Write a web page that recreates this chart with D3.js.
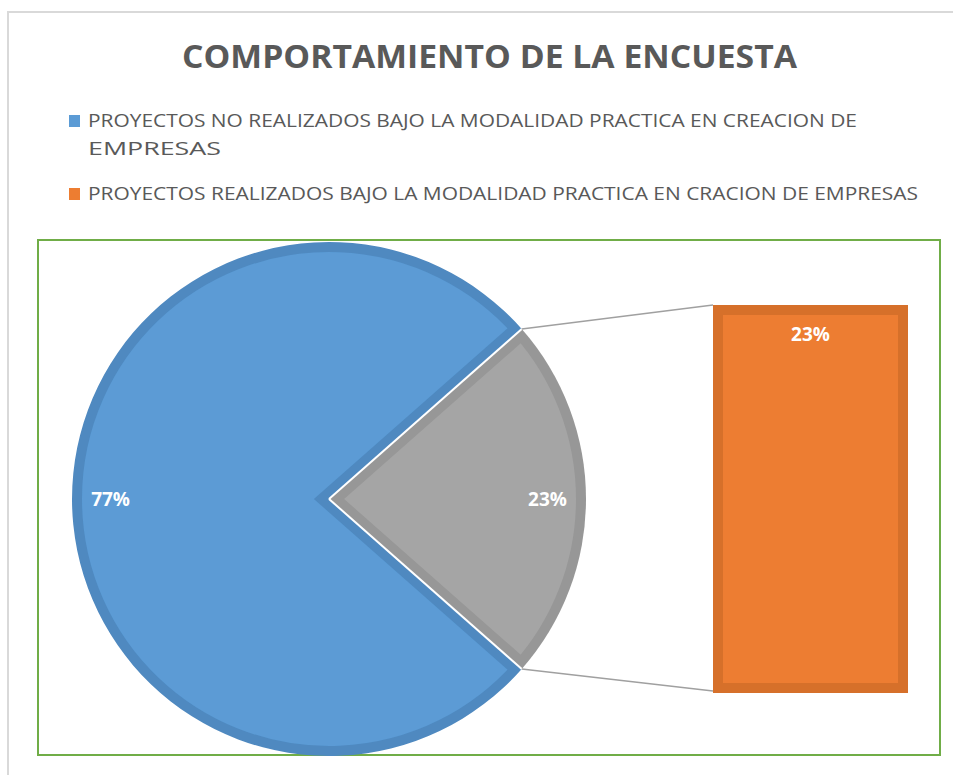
<!DOCTYPE html>
<html>
<head>
<meta charset="utf-8">
<script src="https://cdn.jsdelivr.net/npm/d3@7"></script>
<style>
  html, body { margin: 0; padding: 0; background: #ffffff; }
  svg { display: block; }
</style>
</head>
<body>
<svg id="chart" width="953" height="775"></svg>
<script>
// ---- data ----
const title = "COMPORTAMIENTO DE LA ENCUESTA";
const categories = [
  "PROYECTOS NO REALIZADOS BAJO LA MODALIDAD PRACTICA EN CREACION DE EMPRESAS",
  "PROYECTOS REALIZADOS BAJO LA MODALIDAD PRACTICA EN CRACION DE EMPRESAS"
];
const values = [77, 23];                 // percent
const barValues = [23];                  // bar of the secondary chart
const colors = ["#5b9bd5", "#ed7d31"];
const borderColors = ["#4f89c0", "#d6702b"];
const otherColor = "#a5a5a5";
const otherBorder = "#979797";

const svg = d3.select("#chart");
const defs = svg.append("defs");
defs.append("filter").attr("id", "soft")
  .attr("x", "-5%").attr("y", "-5%").attr("width", "110%").attr("height", "110%")
  .append("feGaussianBlur").attr("stdDeviation", 0.7);

// outer chart border
svg.append("rect").attr("x", 8).attr("y", 12).attr("width", 960).attr("height", 780)
  .attr("fill", "none").attr("stroke", "#d9d9d9").attr("stroke-width", 2);

// title
svg.append("text")
  .attr("x", 182).attr("y", 68)
  .attr("textLength", 615).attr("lengthAdjust", "spacingAndGlyphs")
  .attr("font-family", "'Open Sans', sans-serif").attr("font-weight", "bold")
  .attr("font-size", 32).attr("fill", "#595959")
  .text(title);

// legend
const legendFont = "'Open Sans', sans-serif";
const legendItems = [
  { lines: ["PROYECTOS NO REALIZADOS BAJO LA MODALIDAD PRACTICA EN CREACION DE", "EMPRESAS"], lens: [769, 133], y: 127, color: colors[0] },
  { lines: [categories[1]], lens: [830], y: 200, color: colors[1] }
];
legendItems.forEach(it => {
  svg.append("rect").attr("x", 69).attr("y", it.y - 12).attr("width", 11).attr("height", 12)
    .attr("fill", it.color);
  it.lines.forEach((ln, i) => {
    svg.append("text").attr("x", 88).attr("y", it.y + i * 28)
      .attr("font-family", legendFont).attr("font-size", 18).attr("fill", "#595959")
      .attr("textLength", it.lens[i]).attr("lengthAdjust", "spacingAndGlyphs")
      .text(ln);
  });
});

// plot area border
svg.append("rect").attr("x", 38).attr("y", 240).attr("width", 902).attr("height", 515)
  .attr("fill", "none").attr("stroke", "#70ad47").attr("stroke-width", 2);

// ---- pie ----
const cx = 329, cy = 499, R = 257;
const total = d3.sum(values);
const start = Math.PI / 2 + Math.PI * values[1] / total;
const pie = d3.pie().sort(null).startAngle(start).endAngle(start + 2 * Math.PI);
const arcs = pie(values);
const arc = d3.arc().innerRadius(0).outerRadius(R);
const labelArc = d3.arc().innerRadius(R * 0.85).outerRadius(R * 0.85);

const fills = [colors[0], otherColor];
const strokes = [borderColors[0], otherBorder];

arcs.forEach((a, i) => {
  const id = "clip" + i;
  defs.append("clipPath").attr("id", id).append("path").attr("d", arc(a))
    .attr("transform", `translate(${cx},${cy})`);
  const g = svg.append("g").attr("clip-path", `url(#${id})`);
  g.append("path").attr("d", arc(a)).attr("transform", `translate(${cx},${cy})`)
    .attr("fill", fills[i]).attr("stroke", strokes[i]).attr("stroke-width", 20)
    .attr("filter", "url(#soft)");
});

const pg = svg.append("g").attr("transform", `translate(${cx},${cy})`);

// white separator lines on the "other" slice radial edges
const other = arcs[1];
[other.startAngle, other.endAngle].forEach(ang => {
  pg.append("line").attr("x1", 0).attr("y1", 0)
    .attr("x2", R * Math.sin(ang)).attr("y2", -R * Math.cos(ang))
    .attr("stroke", "#ffffff").attr("stroke-width", 2);
});

// pie labels
arcs.forEach((a, i) => {
  const [lx, ly] = labelArc.centroid(a);
  pg.append("text").attr("x", lx).attr("y", ly).attr("dy", "0.36em")
    .attr("text-anchor", "middle")
    .attr("font-family", "'Open Sans', sans-serif").attr("font-weight", "bold")
    .attr("font-size", 19).attr("fill", "#ffffff")
    .text(d3.format(".0%")(a.value / total));
});

// ---- bar (secondary chart) ----
const barX = d3.scaleBand().domain(["other"]).range([713, 908]).padding(0);
const barY = d3.scaleLinear().domain([0, 23]).range([693, 305]);
const bx = barX("other"), bw = barX.bandwidth();
const by = barY(barValues[0]), bh = barY(0) - barY(barValues[0]);

defs.append("clipPath").attr("id", "clipBar").append("rect")
  .attr("x", bx).attr("y", by).attr("width", bw).attr("height", bh);
svg.append("g").attr("clip-path", "url(#clipBar)")
  .append("rect").attr("x", bx).attr("y", by).attr("width", bw).attr("height", bh)
  .attr("fill", colors[1]).attr("stroke", borderColors[1]).attr("stroke-width", 20)
  .attr("filter", "url(#soft)");

svg.append("text").attr("x", bx + bw / 2).attr("y", by + 36)
  .attr("text-anchor", "middle")
  .attr("font-family", "'Open Sans', sans-serif").attr("font-weight", "bold")
  .attr("font-size", 19).attr("fill", "#ffffff")
  .text(d3.format(".0%")(barValues[0] / total));

// connector lines
const topPt = [cx + R * Math.sin(other.startAngle), cy - R * Math.cos(other.startAngle)];
const botPt = [cx + R * Math.sin(other.endAngle), cy - R * Math.cos(other.endAngle)];
svg.append("line").attr("x1", topPt[0]).attr("y1", topPt[1]).attr("x2", bx).attr("y2", by)
  .attr("stroke", "#a0a0a0").attr("stroke-width", 1.5);
svg.append("line").attr("x1", botPt[0]).attr("y1", botPt[1]).attr("x2", bx).attr("y2", barY(0) - 2)
  .attr("stroke", "#a0a0a0").attr("stroke-width", 1.5);
</script>
</body>
</html>
